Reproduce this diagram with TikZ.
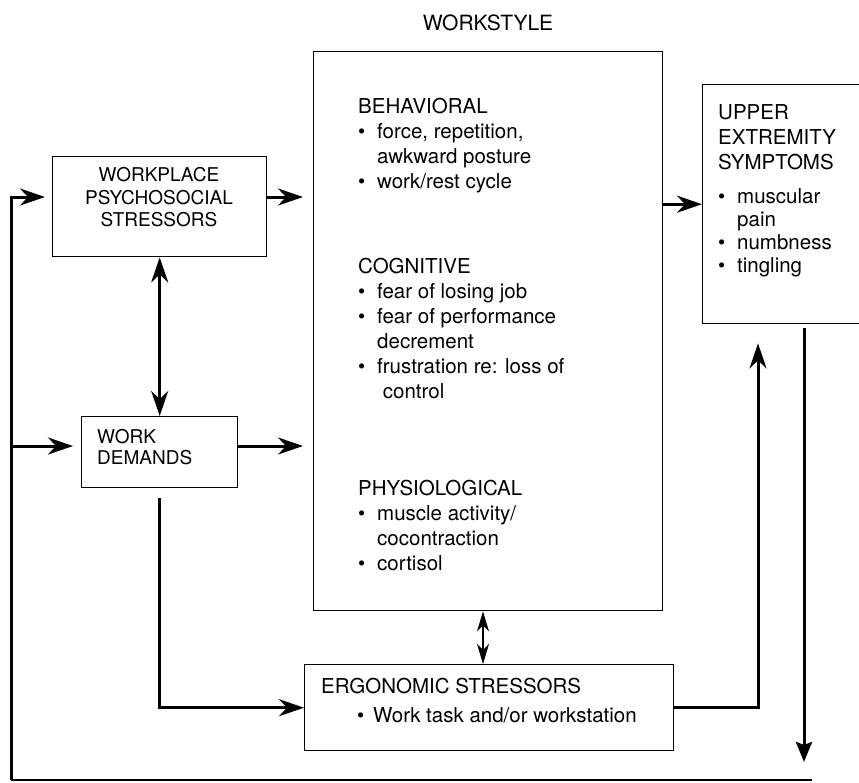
\documentclass[tikz,border=0pt]{standalone}
\usepackage{fontspec}
\setmainfont{TeX Gyre Heros}
\usetikzlibrary{arrows.meta,calc}

% bullet with a fixed hanging indent, and the matching indent for run-on lines
\newcommand{\bul}{\makebox[19pt][l]{\textbullet}}
\newcommand{\ind}{\hspace*{19pt}}

\begin{document}
\begin{tikzpicture}[x=1pt,y=-1pt,
  box/.style={draw, line width=1.4pt, anchor=north west, inner sep=0pt},
  body/.style={inner sep=0pt, align=left, anchor=north west,
    font=\fontsize{20.5}{25}\selectfont},
  small/.style={inner sep=0pt, font=\fontsize{19}{22.5}\selectfont},
  conn/.style={line width=3pt},
  big arrow/.style={-{Stealth[length=25pt,width=17pt,inset=8pt]}},
  big arrows/.style={{Stealth[length=25pt,width=17pt,inset=8pt]}-{Stealth[length=25pt,width=17pt,inset=8pt]}},
  thin arrows/.style={line width=1.4pt,{Stealth[length=20pt,width=12pt,inset=6pt]}-{Stealth[length=20pt,width=12pt,inset=6pt]}},
  down arrow/.style={-{Stealth[length=20pt,width=16pt,inset=3pt]}}
]
\clip (0,0) rectangle (859,782);

% ---- boxes ----
\node[box, minimum width=349pt, minimum height=559pt] (big)   at (313,51)  {};
\node[box, minimum width=220pt, minimum height=239pt] (upper) at (702,84)  {};
\node[box, minimum width=214pt, minimum height=100pt] (psy)   at (52,156)  {};
\node[box, minimum width=156pt, minimum height=71pt]  (wd)    at (81,416)  {};
\node[box, minimum width=369pt, minimum height=86pt]  (ergo)  at (304,664) {};

% ---- labels ----
\node[inner sep=0pt, font=\fontsize{21}{25}\selectfont] (title) at (488,23) {WORKSTYLE};

\node[body] (beh) at (358,97.6) {BEHAVIORAL\\
  \bul force, repetition,\\
  \ind awkward posture\\
  \bul work/rest cycle};

\node[body] (cog) at (358,257.6) {COGNITIVE\\
  \bul fear of losing job\\
  \bul fear of performance\\
  \ind decrement\\
  \bul frustration re: loss of\\
  \ind\ control};

\node[body] (phy) at (358,479.6) {PHYSIOLOGICAL\\
  \bul muscle activity/\\
  \ind cocontraction\\
  \bul cortisol};

\node[body] (uhead) at (718,104.6) {UPPER\\EXTREMITY\\SYMPTOMS};
\node[body, font=\fontsize{20.5}{23}\selectfont] (ulist) at (718,188) {%
  \bul muscular\\
  \ind pain\\
  \bul numbness\\
  \bul tingling};

\node[small, align=center] (psytext) at (159,197.5) {WORKPLACE\\PSYCHOSOCIAL\\STRESSORS};
\node[small, align=left, anchor=north west, font=\fontsize{19}{21}\selectfont] (wdtext) at (97,429) {WORK\\DEMANDS};

\node[inner sep=0pt, anchor=west, font=\fontsize{20.5}{25}\selectfont] (ergohead) at (321,686) {ERGONOMIC STRESSORS};
\node[inner sep=0pt, anchor=base west, font=\fontsize{20.5}{25}\selectfont] (ergoitem) at (357,722)
  {\makebox[16pt][l]{\textbullet}Work task and/or workstation};

% ---- connectors ----
\coordinate (fbR) at (812,780);
\coordinate (fbL) at (11,780);
\coordinate (psyIn) at ($(psy.north west)+(0,41)$);
\coordinate (wdIn)  at ($(wd.north west)+(0,30)$);
\coordinate (upIn)  at ($(upper.south west)+(56,0)$);
\coordinate (upOut) at ($(upper.south west)+(102,0)$);
\coordinate (bx)    at ($(big.south west)+(170,0)$);

% inputs into the workstyle box
\draw[conn, big arrow, shorten >=10pt] ($(psy.north east)+(0,41)$) -- (big.west |- psyIn);
\draw[conn, big arrow, shorten >=10pt] ($(wd.north east)+(0,30)$) -- (big.west |- wdIn);

% workstyle to symptoms
\draw[conn, big arrow] (big.east |- upper.west) -- (upper.west);

% psychosocial stressors <-> work demands
\draw[conn, big arrows] (psy.south) -- (wd.north);

% workstyle <-> ergonomic stressors
\draw[thin arrows] (bx) -- (bx |- ergo.north);

% work demands to ergonomic stressors
\draw[conn, big arrow, shorten <=10pt] (wd.south) |- (ergo.west);

% ergonomic stressors to symptoms
\draw[conn, big arrow, shorten >=19pt] (ergo.east) -| (upIn);

% symptoms feed back
\draw[conn, down arrow, shorten <=4pt, shorten >=18pt] (upOut) -- (upOut |- fbR);
\draw[line width=2.2pt] (fbR) -- (fbL);
\draw[conn, big arrow, shorten >=7pt] (fbL) |- (psyIn);
\draw[conn, big arrow, shorten >=8pt] (fbL |- wdIn) -- (wdIn);
\end{tikzpicture}
\end{document}
